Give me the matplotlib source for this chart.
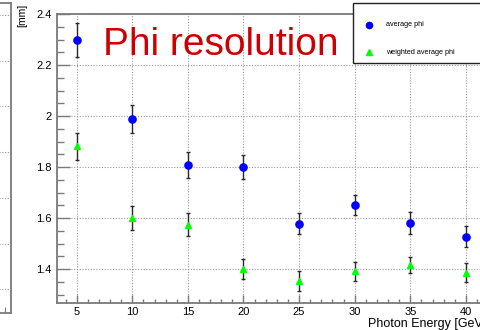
import matplotlib
matplotlib.use("Agg")
import matplotlib.pyplot as plt
from matplotlib.lines import Line2D
from matplotlib.patches import Rectangle
from matplotlib.ticker import MultipleLocator

plt.rcParams['font.family'] = ['Liberation Sans', 'DejaVu Sans']

# Photon energy scan points [GeV]
energy = [5, 10, 15, 20, 25, 30, 35, 40]

# Phi resolution [mm] and uncertainties
avg_phi = [2.298, 1.987, 1.808, 1.799, 1.578, 1.651, 1.582, 1.527]
avg_phi_err = [0.066, 0.055, 0.050, 0.047, 0.041, 0.039, 0.043, 0.042]
wavg_phi = [1.882, 1.600, 1.574, 1.400, 1.353, 1.391, 1.416, 1.386]
wavg_phi_err = [0.053, 0.046, 0.045, 0.040, 0.038, 0.037, 0.033, 0.038]

series_labels = ["average phi", "weighted average phi"]

W, H = 481, 330
fig = plt.figure(figsize=(W / 100, H / 100), dpi=100)
fig.patch.set_facecolor('white')

frame_col = '#7a7a7a'
grid_kw = dict(color='#9a9a9a', linestyle=(0, (1, 1.5)), linewidth=0.8)

# Neighbouring pad (only its right edge is in view)
axl = fig.add_axes([-200 / W, 17 / H, 211 / W, 310 / H])
axl.set_xlim(0, 1)
axl.set_ylim(0, 6.78)
axl.set_yticks([0.52 + i for i in range(7)])
axl.set_xticks([0.97])
axl.tick_params(axis='both', direction='in', labelleft=False, labelbottom=False,
                length=4, color=frame_col, left=False, right=False)
axl.grid(True, axis='y', **grid_kw)
for s in axl.spines.values():
    s.set_color(frame_col)
    s.set_linewidth(1.3)

# Main pad
ax = fig.add_axes([57 / W, 27 / H, (490 - 57) / W, (303 - 14) / H])
ax.set_xlim(3.23, 42.17)
ax.set_ylim(1.267, 2.4)

ax.xaxis.set_major_locator(MultipleLocator(5))
ax.xaxis.set_minor_locator(MultipleLocator(1))
ax.yaxis.set_major_locator(MultipleLocator(0.2))
ax.yaxis.set_minor_locator(MultipleLocator(0.05))
ax.set_xticks([5, 10, 15, 20, 25, 30, 35, 40])
ax.set_xticklabels(['5', '10', '15', '20', '25', '30', '35', '40'])
ax.set_yticks([1.4, 1.6, 1.8, 2.0, 2.2, 2.4])
ax.set_yticklabels(['1.4', '1.6', '1.8', '2', '2.2', '2.4'])

ax.tick_params(axis='y', which='major', direction='in', length=9, width=1, color=frame_col,
               labelsize=8, pad=4)
ax.tick_params(axis='y', which='minor', direction='in', length=4.8, width=1, color=frame_col)
ax.tick_params(axis='x', which='major', direction='in', length=5.8, width=1, color=frame_col,
               labelsize=8, pad=3)
ax.tick_params(axis='x', which='minor', direction='in', length=2.9, width=1, color=frame_col)
ax.grid(True, which='major', **grid_kw)
ax.set_axisbelow(True)
for s in ax.spines.values():
    s.set_color(frame_col)
    s.set_linewidth(1.3)

err_kw = dict(linestyle='none', ecolor='#2a2a2a', elinewidth=1.0, capsize=1.6, capthick=1.0)
ax.errorbar(energy, avg_phi, yerr=avg_phi_err, marker='o', markersize=5.2,
            color='#0000ff', markeredgecolor='#0000ff', zorder=4, **err_kw)
ax.errorbar(energy, wavg_phi, yerr=wavg_phi_err, marker='^', markersize=5.0,
            color='#00ff00', markeredgecolor='#00ff00', zorder=4, **err_kw)

# Title
fig.text(103 / W, 1 - 55 / H, "Phi resolution", color='#cc0000', fontsize=28,
         ha='left', va='baseline')

# Axis titles
fig.text(22 / W, 1 - 4 / H, "[mm]", rotation=90, fontsize=7.5, ha='center', va='top')
fig.text(368 / W, 1 - 327 / H, "Photon Energy [GeV]", fontsize=9, ha='left',
         va='baseline')

# Legend box
fig.add_artist(Rectangle((353 / W, 1 - 63 / H), 140 / W, 60 / H, transform=fig.transFigure,
                         facecolor='white', edgecolor='#222222', linewidth=1.0, zorder=5))
fig.add_artist(Line2D([369 / W], [1 - 25 / H], marker='o', markersize=4.5,
                      color='#0000ff', transform=fig.transFigure, zorder=6))
fig.add_artist(Line2D([369 / W], [1 - 52 / H], marker='^', markersize=4.5,
                      color='#00ff00', transform=fig.transFigure, zorder=6))
fig.text(386 / W, 1 - 25 / H, series_labels[0], fontsize=5.2, ha='left', va='center',
         zorder=6)
fig.text(386 / W, 1 - 52 / H, series_labels[1], fontsize=5.2, ha='left', va='center',
         zorder=6)

fig.savefig("out.png", dpi=100)
